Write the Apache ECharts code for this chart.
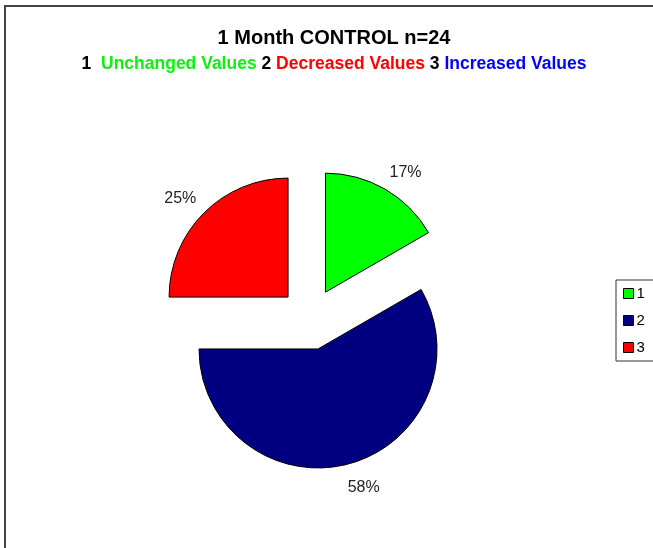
<!DOCTYPE html>
<html lang="en">
  <head>
    <meta charset="UTF-8" />
    <title>1 Month CONTROL n=24</title>
    <script src="https://cdn.jsdelivr.net/npm/echarts@6/dist/echarts.min.js"></script>
    <style>
      html, body { margin: 0; padding: 0; background: #fff; }
    </style>
  </head>
  <body>
    <div id="main" style="width: 653px; height: 548px"></div>
    <script>
      // data
      var names = ['1', '2', '3'];
      var counts = [4, 14, 6]; // n=24 -> 17%, 58%, 25%
      var colors = ['#00ff00', '#000080', '#ff0000'];
      // small nudges so the % labels sit where the original put them
      var labelNudge = [[-8, -4], [-10, 9], [8, -4]];

      var mCharts = echarts.init(document.getElementById('main'));

      var pieData = names.map(function (n, i) {
        return {
          name: n,
          value: counts[i],
          selected: true,
          itemStyle: { color: colors[i] },
        };
      });

      var subFont = 'Liberation Sans, Arial, sans-serif';

      var option = {
        animation: false,
        title: {
          text: '1 Month CONTROL n=24',
          subtext:
            '{k|1}  {g|Unchanged Values} {k|2} {r|Decreased Values} {k|3} {b|Increased Values}',
          left: 329,
          textAlign: 'center',
          top: 23,
          itemGap: 7,
          textStyle: {
            fontFamily: 'Liberation Sans, Arial, sans-serif',
            fontSize: 20,
            fontWeight: 'bold',
            color: '#000',
          },
          subtextStyle: {
            fontFamily: subFont,
            fontSize: 17.5,
            fontWeight: 'bold',
            rich: {
              k: { color: '#000', fontSize: 17.5, fontWeight: 'bold', fontFamily: subFont },
              g: { color: '#11ee11', fontSize: 17.5, fontWeight: 'bold', fontFamily: subFont },
              r: { color: '#ff0000', fontSize: 17.5, fontWeight: 'bold', fontFamily: subFont },
              b: { color: '#0000ff', fontSize: 17.5, fontWeight: 'bold', fontFamily: subFont },
            },
          },
        },
        legend: {
          orient: 'vertical',
          left: 616,
          top: 280,
          padding: [6, 30, 6, 7],
          itemWidth: 10,
          itemHeight: 10,
          itemGap: 12,
          borderColor: '#333',
          borderWidth: 1,
          icon: 'rect',
          itemStyle: { borderColor: '#000', borderWidth: 1 },
          textStyle: {
            fontFamily: 'Liberation Sans, Arial, sans-serif',
            fontSize: 15,
            color: '#000',
            padding: [0, 0, 0, -2],
          },
          data: names,
        },
        graphic: [
          {
            type: 'polyline',
            shape: { points: [[5, 548], [5, 6], [653, 6]] },
            style: { stroke: '#444', lineWidth: 2, fill: null },
          },
        ],
        series: [
          {
            type: 'pie',
            center: [310, 319],
            radius: 119,
            startAngle: 90,
            clockwise: true,
            selectedMode: 'multiple',
            selectedOffset: 31,
            itemStyle: { borderColor: '#000', borderWidth: 1 },
            emphasis: { disabled: true },
            label: {
              show: true,
              position: 'outside',
              formatter: function (p) {
                return Math.round(p.percent) + '%';
              },
              fontFamily: 'Liberation Sans, Arial, sans-serif',
              fontSize: 16,
              color: '#222',
            },
            labelLine: { show: false, length: 15, length2: 0 },
            labelLayout: function (p) {
              var d = labelNudge[p.dataIndex];
              return { dx: d[0], dy: d[1] };
            },
            data: pieData,
          },
        ],
      };

      mCharts.setOption(option);
    </script>
  </body>
</html>
